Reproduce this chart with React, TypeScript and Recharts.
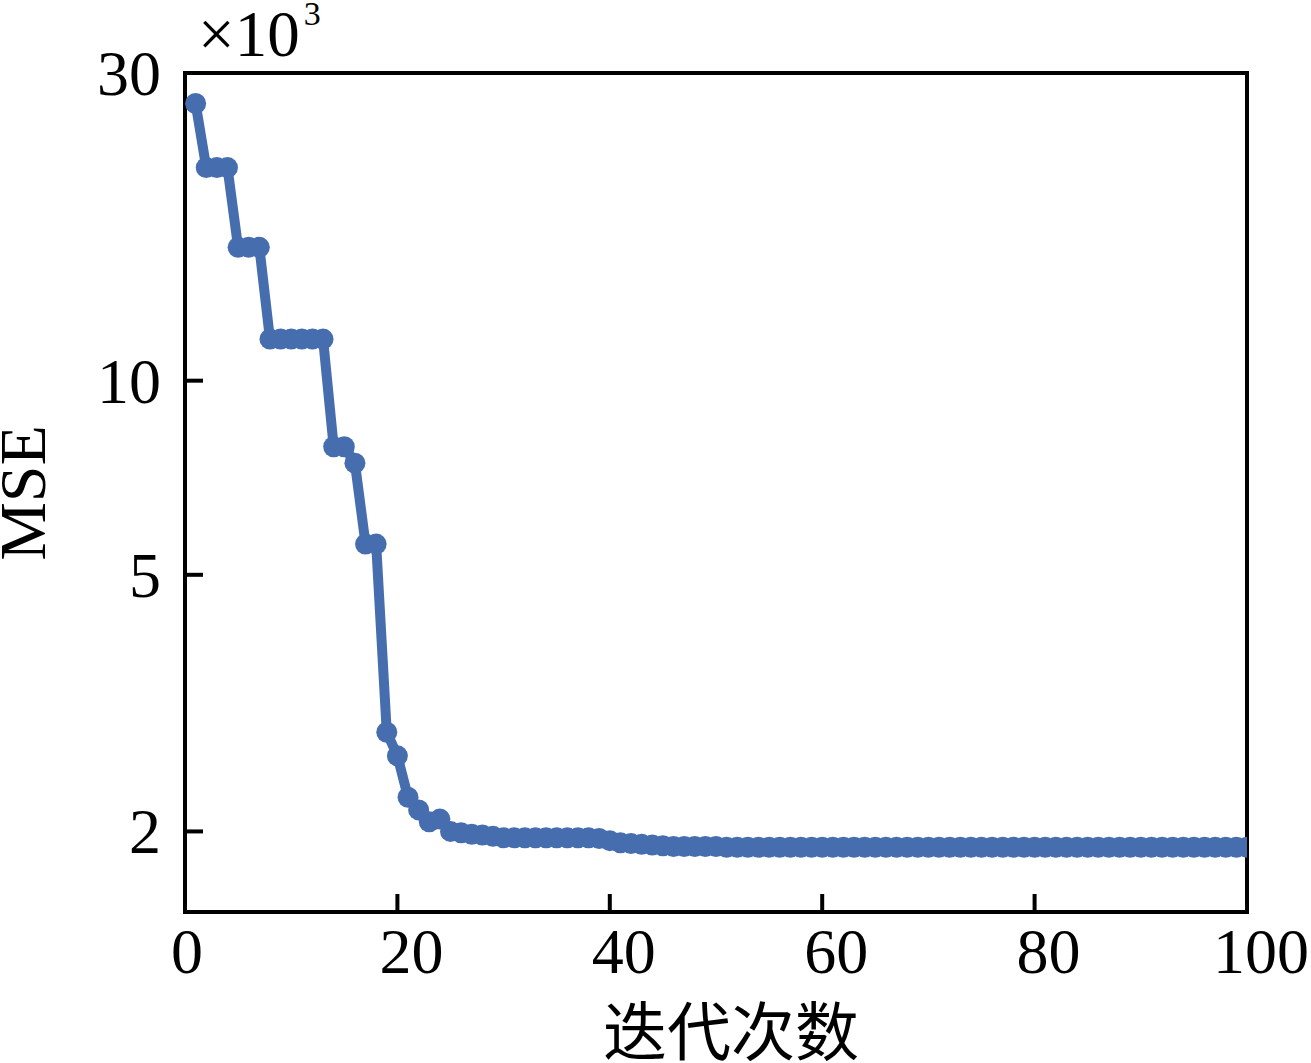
import React from 'react';
import { LineChart, Line, XAxis, YAxis, ReferenceArea } from 'recharts';

// MSE (×10^3) per iteration, iterations 1..100
const mseValues: number[] = [
  26.9, 21.4, 21.4, 21.4, 16.1, 16.1, 16.1, 11.6, 11.6, 11.6,
  11.6, 11.6, 11.6, 7.9, 7.9, 7.45, 5.58, 5.58, 2.85, 2.62,
  2.26, 2.16, 2.07, 2.09, 2.0, 1.99, 1.98, 1.975, 1.965, 1.955,
  1.955, 1.955, 1.955, 1.955, 1.955, 1.955, 1.955, 1.955, 1.95, 1.935,
  1.92, 1.915, 1.91, 1.905, 1.9, 1.895, 1.895, 1.895, 1.895, 1.895,
  1.89, 1.89, 1.89, 1.89, 1.89, 1.89, 1.89, 1.89, 1.89, 1.89,
  1.89, 1.89, 1.89, 1.89, 1.89, 1.89, 1.89, 1.89, 1.89, 1.89,
  1.89, 1.89, 1.89, 1.89, 1.89, 1.89, 1.89, 1.89, 1.89, 1.89,
  1.89, 1.89, 1.89, 1.89, 1.89, 1.89, 1.89, 1.89, 1.89, 1.89,
  1.89, 1.89, 1.89, 1.89, 1.89, 1.89, 1.89, 1.89, 1.89, 1.89,
];
const iterations: number[] = mseValues.map((_, i) => i + 1);

const xTicks = [0, 20, 40, 60, 80, 100];
const yTicks = [2, 5, 10, 30];
const xDomain: [number, number] = [0, 100];
const yDomain: [number, number] = [1.5, 30];

const xLabel = '迭代次数';
const yLabel = 'MSE';

const data = iterations.map((it, i) => ({ iter: it, mse: mseValues[i] }));

const SERIF = "'Liberation Serif', 'Times New Roman', serif";
const CJK = "'Noto Sans CJK SC', 'Liberation Serif', serif";
const LINE_COLOR = '#466EAF';

const YTick = (props: any) => {
  const { x, y, payload } = props;
  return (
    <g>
      <line x1={x} x2={x + 18} y1={y} y2={y} stroke="#000" strokeWidth={4} />
      <text x={x - 24} y={y + 22} textAnchor="end" fontSize={64} fontFamily={SERIF} fill="#000">
        {payload.value}
      </text>
    </g>
  );
};

const XTick = (props: any) => {
  const { x, y, payload } = props;
  const shift = payload.value === 0 ? 2 : 14;
  return (
    <g>
      <line x1={x} x2={x} y1={y} y2={y - 18} stroke="#000" strokeWidth={4} />
      <text x={x + shift} y={y + 61} textAnchor="middle" fontSize={64} fontFamily={SERIF} fill="#000">
        {payload.value}
      </text>
    </g>
  );
};

const YLabel = () => (
  <g>
    <text
      transform="translate(45, 493) rotate(-90)"
      textAnchor="middle"
      fontSize={66}
      fontFamily={SERIF}
      fill="#000"
    >
      {yLabel}
    </text>
    <text x={198} y={56} fontSize={65} fontFamily={SERIF} fill="#000">
      ×10
      <tspan fontSize={34} dx={4} dy={-31}>3</tspan>
    </text>
  </g>
);

const XLabel = () => (
  <text x={731} y={1055} textAnchor="middle" fontSize={64} fontFamily={CJK} fill="#000">
    {xLabel}
  </text>
);

export default function App() {
  return (
    <div style={{ position: 'absolute', left: 0, top: 0, width: 1311, height: 1063, background: '#fff' }}>
      <LineChart width={1311} height={1063} data={data} margin={{ top: 73, right: 64, bottom: 0, left: 0 }}>
        <XAxis
          dataKey="iter"
          type="number"
          domain={xDomain}
          ticks={xTicks}
          interval={0}
          allowDataOverflow
          height={151}
          axisLine={false}
          tickLine={false}
          tickSize={0}
          tickMargin={0}
          tick={<XTick />}
          label={<XLabel />}
        />
        <YAxis
          dataKey="mse"
          type="number"
          scale="log"
          domain={yDomain}
          ticks={yTicks}
          interval={0}
          allowDataOverflow
          width={185}
          axisLine={false}
          tickLine={false}
          tickSize={0}
          tickMargin={0}
          tick={<YTick />}
          label={<YLabel />}
        />
        <ReferenceArea
          x1={xDomain[0]}
          x2={xDomain[1]}
          y1={yDomain[0]}
          y2={yDomain[1]}
          fill="none"
          fillOpacity={0}
          stroke="#000"
          strokeWidth={4}
          ifOverflow="visible"
        />
        <Line
          type="linear"
          dataKey="mse"
          stroke={LINE_COLOR}
          strokeWidth={10}
          dot={{ r: 10.5, fill: LINE_COLOR, stroke: 'none', strokeWidth: 0 }}
          activeDot={false}
          isAnimationActive={false}
        />
      </LineChart>
    </div>
  );
}
